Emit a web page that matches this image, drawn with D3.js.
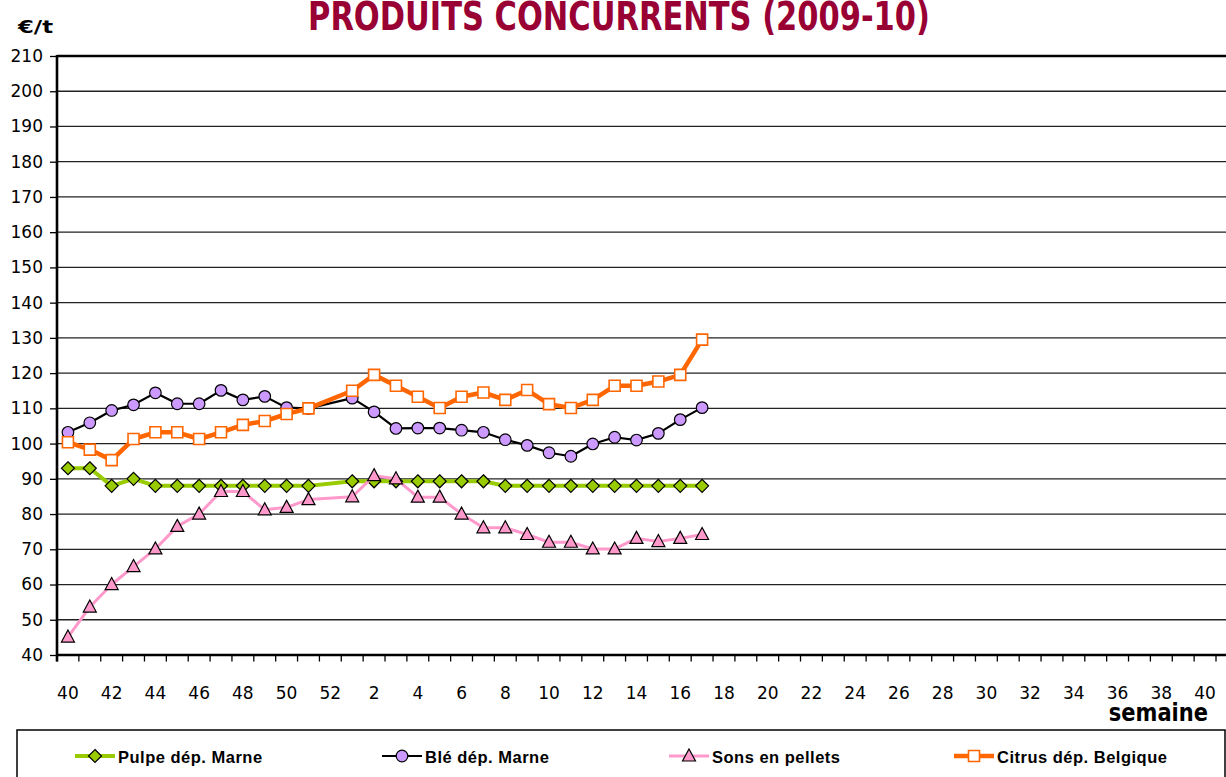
<!DOCTYPE html>
<html>
<head>
<meta charset="utf-8">
<script src="https://cdn.jsdelivr.net/npm/d3@7"></script>
<style>
  body { margin: 0; background: #fff; }
  svg { display: block; }
</style>
</head>
<body>
<div id="chart"></div>
<script>
const width = 1226;
const height = 777;

// x slots: weeks 40..52 of 2009 then 1..40 of 2010
const slotLabels = [40, 41, 42, 43, 44, 45, 46, 47, 48, 49, 50, 51, 52,
    1, 2, 3, 4, 5, 6, 7, 8, 9, 10, 11, 12, 13, 14, 15, 16, 17, 18, 19, 20,
    21, 22, 23, 24, 25, 26, 27, 28, 29, 30, 31, 32, 33, 34, 35, 36, 37, 38, 39, 40];

// slot index of each data point (week 52 has no quote)
const dataSlots = [0, 1, 2, 3, 4, 5, 6, 7, 8, 9, 10, 11,
    13, 14, 15, 16, 17, 18, 19, 20, 21, 22, 23, 24, 25, 26, 27, 28, 29];

const pulpe = [93, 93, 88, 90, 88, 88, 88, 88, 88, 88, 88, 88,
    89.3, 89.3, 89.3, 89.3, 89.3, 89.3, 89.3, 88, 88, 88, 88, 88, 88, 88, 88, 88, 88];
const ble = [103.2, 105.9, 109.4, 111.0, 114.4, 111.3, 111.3, 115.1, 112.4, 113.4, 110.2, 110.0,
    112.9, 109.0, 104.3, 104.4, 104.4, 103.8, 103.2, 101.1, 99.5, 97.4, 96.4, 99.9, 101.8, 101.0, 102.9, 106.8, 110.2];
const sons = [45.1, 53.6, 60.0, 65.1, 70.1, 76.5, 80.0, 86.4, 86.4, 81.2, 81.9, 84.1,
    84.9, 90.9, 90.0, 84.8, 84.8, 80.0, 76.1, 76.1, 74.2, 72.0, 72.0, 70.1, 70.1, 73.1, 72.2, 73.1, 74.2];
const citrus = [100.4, 98.3, 95.3, 101.3, 103.2, 103.2, 101.3, 103.2, 105.3, 106.4, 108.4, 110.0,
    115.0, 119.5, 116.4, 113.3, 110.1, 113.3, 114.5, 112.4, 115.2, 111.2, 110.1, 112.4, 116.4, 116.4, 117.6, 119.5, 129.5];

const yTicks = [40, 50, 60, 70, 80, 90, 100, 110, 120, 130, 140, 150, 160, 170, 180, 190, 200, 210];

const seriesNames = ["Pulpe dép. Marne", "Blé dép. Marne", "Sons en pellets", "Citrus dép. Belgique"];

const series = [
    { name: seriesNames[0], values: pulpe, line: "#99CC00", lw: 4, marker: "diamond", fill: "#99CC00", stroke: "#000" },
    { name: seriesNames[1], values: ble, line: "#000000", lw: 2.2, marker: "circle", fill: "#CC99FF", stroke: "#000" },
    { name: seriesNames[2], values: sons, line: "#FF99CC", lw: 3, marker: "triangle", fill: "#FF99CC", stroke: "#000" },
    { name: seriesNames[3], values: citrus, line: "#FF6600", lw: 4.5, marker: "square", fill: "#FFFFFF", stroke: "#FF6600" }
];

const plotLeft = 57, plotRight = 1216, plotTop = 56, plotBottom = 655;

const svg = d3.select("#chart").append("svg")
    .attr("width", width)
    .attr("height", height)
    .style("font-family", "'DejaVu Sans', Verdana, sans-serif");

const x = d3.scaleBand()
    .domain(d3.range(slotLabels.length))
    .range([plotLeft, plotRight])
    .padding(0);

const y = d3.scaleLinear()
    .domain([40, 210])
    .range([plotBottom, plotTop]);

const cx = i => x(i) + x.bandwidth() / 2;

// gridlines
svg.append("g").selectAll("line")
    .data(yTicks.filter(v => v > 40))
    .enter().append("line")
    .attr("x1", plotLeft).attr("x2", width)
    .attr("y1", d => y(d)).attr("y2", d => y(d))
    .attr("stroke", d => d === 210 ? "#000" : "#222")
    .attr("stroke-width", d => d === 210 ? 2.4 : 1.3);

// y axis
const yAxis = d3.axisLeft(y).tickValues(yTicks).tickSize(7).tickPadding(7);
const gy = svg.append("g").attr("transform", `translate(${plotLeft},0)`).call(yAxis);
gy.select(".domain").remove();
gy.selectAll(".tick line").attr("stroke", "#000").attr("stroke-width", 1.3);
gy.selectAll("text").attr("font-size", 17).attr("font-family", "'DejaVu Sans', Verdana, sans-serif").attr("fill", "#000");

// x axis: tick marks on slot boundaries, labels every 2 slots
const boundaries = d3.range(slotLabels.length + 1);
svg.append("g").selectAll("line")
    .data(boundaries)
    .enter().append("line")
    .attr("x1", d => plotLeft + d * x.bandwidth())
    .attr("x2", d => plotLeft + d * x.bandwidth())
    .attr("y1", plotBottom).attr("y2", plotBottom + 6.5)
    .attr("stroke", "#000").attr("stroke-width", 1.3);

svg.append("g").selectAll("text")
    .data(slotLabels.map((l, i) => ({ l, i })).filter(d => d.i % 2 === 0))
    .enter().append("text")
    .attr("x", d => cx(d.i))
    .attr("y", 699)
    .attr("text-anchor", "middle")
    .attr("font-size", 17)
    .text(d => d.l);

svg.append("line")
    .attr("x1", plotLeft).attr("x2", width)
    .attr("y1", plotBottom).attr("y2", plotBottom)
    .attr("stroke", "#000").attr("stroke-width", 2.6);
svg.append("line")
    .attr("x1", plotLeft).attr("x2", plotLeft)
    .attr("y1", plotTop - 1).attr("y2", plotBottom + 6.5)
    .attr("stroke", "#000").attr("stroke-width", 2.6);

// marker shapes
function markerPath(type) {
    if (type === "diamond") return "M0,-6.5L6.5,0L0,6.5L-6.5,0Z";
    if (type === "triangle") return "M0,-7L6.5,5L-6.5,5Z";
    if (type === "square") return "M-5.5,-5.5H5.5V5.5H-5.5Z";
    return null;
}

function drawMarker(g, type, fill, stroke) {
    if (type === "circle") {
        return g.append("circle").attr("r", 5.8)
            .attr("fill", fill).attr("stroke", stroke).attr("stroke-width", 1.2);
    }
    return g.append("path").attr("d", markerPath(type))
        .attr("fill", fill).attr("stroke", stroke)
        .attr("stroke-width", type === "square" ? 1.6 : 1.2)
        .attr("stroke-linejoin", "miter");
}

const line = d3.line()
    .x((d, i) => cx(dataSlots[i]))
    .y(d => y(d));

series.forEach(s => {
    const g = svg.append("g");
    g.append("path")
        .attr("d", line(s.values))
        .attr("fill", "none")
        .attr("stroke", s.line)
        .attr("stroke-width", s.lw)
        .attr("stroke-linejoin", "round");
    s.values.forEach((v, i) => {
        const mg = g.append("g").attr("transform", `translate(${cx(dataSlots[i])},${y(v)})`);
        drawMarker(mg, s.marker, s.fill, s.stroke);
    });
});

// title (top is cut by the frame, as in the source picture)
svg.append("text")
    .attr("transform", "translate(619,29.5) scale(1,1.3)")
    .attr("text-anchor", "middle")
    .attr("font-size", 30.5)
    .attr("font-weight", "bold")
    .attr("fill", "#990033")
    .text("PRODUITS CONCURRENTS (2009-10)");

// unit label
svg.append("text")
    .attr("x", 18).attr("y", 33)
    .attr("font-size", 18)
    .attr("font-weight", "bold")
    .attr("textLength", 35)
    .attr("lengthAdjust", "spacingAndGlyphs")
    .text("€/t");

svg.append("text")
    .attr("transform", "translate(1208,721) scale(1,1.2)")
    .attr("text-anchor", "end")
    .attr("font-size", 21)
    .attr("font-weight", "bold")
    .text("semaine");

// legend
svg.append("rect")
    .attr("x", 17).attr("y", 730)
    .attr("width", 1208).attr("height", 70)
    .attr("fill", "#fff").attr("stroke", "#000").attr("stroke-width", 1.5);

const legendX = [75, 382, 669, 954];
series.forEach((s, i) => {
    const g = svg.append("g").attr("transform", `translate(${legendX[i]},756)`);
    g.append("line").attr("x1", 0).attr("x2", 40).attr("y1", 0).attr("y2", 0)
        .attr("stroke", s.line).attr("stroke-width", s.lw);
    drawMarker(g.append("g").attr("transform", "translate(20,0)"), s.marker, s.fill, s.stroke);
    g.append("text")
        .attr("x", 43).attr("y", 7)
        .attr("font-family", "'Liberation Sans', Arial, sans-serif")
        .attr("font-weight", "bold")
        .attr("font-size", 16.5)
        .attr("letter-spacing", 0.5)
        .text(s.name);
});
</script>
</body>
</html>
